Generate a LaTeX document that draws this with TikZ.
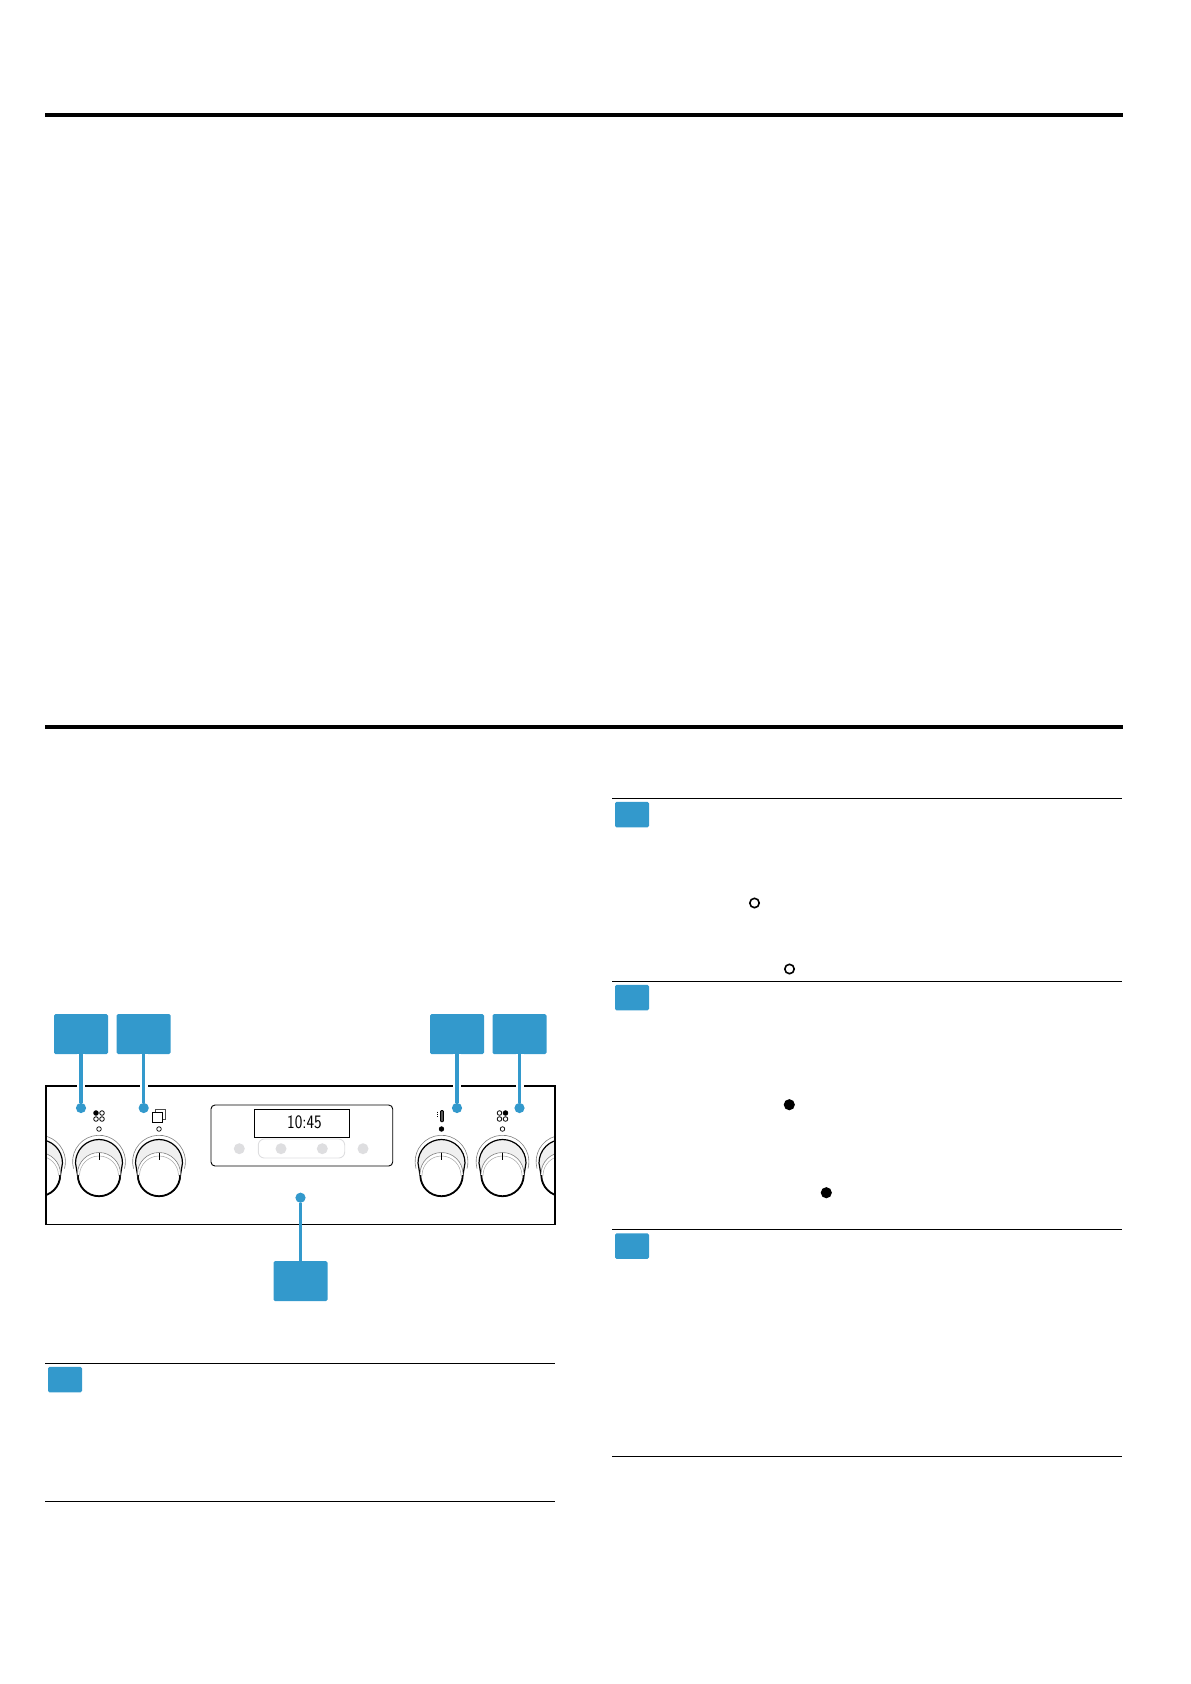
\documentclass[tikz,border=0pt]{standalone}
\usepackage{tikz}
\usetikzlibrary{positioning,calc}
\definecolor{calloutblue}{HTML}{3399CC}
\definecolor{keygray}{HTML}{DEDEE0}

\begin{document}
\begin{tikzpicture}[
    x=1pt, y=-1pt,
    callout/.style={fill=calloutblue, rounded corners=1.5pt, minimum width=54pt, minimum height=40pt, inner sep=0pt},
    tag/.style={fill=calloutblue, rounded corners=1.5pt, minimum width=34pt, minimum height=25.5pt, inner sep=0pt},
    anchordot/.style={circle, fill=calloutblue, minimum size=10.2pt, inner sep=0pt},
    lead/.style={draw=calloutblue, line width=3.5pt},
    halo/.style={draw=white, line width=8pt},
    rulethick/.style={line width=4pt},
    rulethin/.style={line width=1.1pt},
    key/.style={circle, fill=keygray, minimum size=11pt, inner sep=0pt},
    lamp/.style={circle, draw, line width=0.7pt, minimum size=4.6pt, inner sep=0pt},
    bullet/.style={circle, draw, line width=1.6pt, minimum size=9.4pt, inner sep=0pt},
    spot/.style={circle, draw, line width=0.8pt, minimum size=4.6pt, inner sep=0pt}
]
    \useasboundingbox (0,0) rectangle (1191,1684);

    % page rules
    \draw[rulethick] (45,115) -- (1123,115);
    \draw[rulethick] (45,727) -- (1123,727);
    \draw[rulethin] (612,798.5) -- (1122,798.5);
    \draw[rulethin] (612,981.4) -- (1122,981.4);
    \draw[rulethin] (612,1229.5) -- (1122,1229.5);
    \draw[rulethin] (612,1456.5) -- (1122,1456.5);
    \draw[rulethin] (45,1363.5) -- (555,1363.5);
    \draw[rulethin] (45,1501.5) -- (555,1501.5);

    % tags under the rules
    \node[tag] (tagA) at (632,814.5) {};
    \node[tag] (tagB) at (632,997.5) {};
    \node[tag] (tagC) at (632,1246) {};
    \node[tag] (tagD) at (65,1379.5) {};

    % marks in the right column
    \node[bullet] (openA) at (754.5,903) {};
    \node[bullet] (openB) at (789.5,969) {};
    \node[bullet, fill=black] (fullA) at (789.3,1104.7) {};
    \node[bullet, fill=black] (fullB) at (826.3,1192.7) {};

    % knobs, clipped by the panel
    \begin{scope}
        \clip (46,1086) rectangle (555,1225);
        \foreach \kx in {39,99,159,441.5,502.5,562.5} {
            \draw[black!50, line width=0.6pt] (\kx-25.5,1168.5) arc[start angle=165, end angle=375, radius=26.4];
            \draw[fill=black!6, line width=1.2pt] (\kx-23.5,1163) arc[start angle=180, end angle=360, radius=23.5] -- (\kx+21.5,1175) arc[start angle=0, end angle=180, radius=21.5] -- cycle;
            \draw[fill=white, draw=none] (\kx,1174) circle[radius=21.5];
            \draw[black!50, line width=0.6pt] (\kx-21.5,1174) arc[start angle=180, end angle=360, radius=21.5];
            \draw[black!35, line width=0.5pt] (\kx-19.5,1175.5) arc[start angle=180, end angle=360, radius=19.5];
            \draw[line width=1.4pt] (\kx-21,1175) arc[start angle=180, end angle=0, radius=21];
            \draw[line width=0.8pt] (\kx,1153) -- (\kx,1160);
        }
    \end{scope}

    % panel
    \draw[line width=1.5pt] (46,1086) rectangle (555,1224.5);

    % display
    \draw[line width=0.9pt, rounded corners=4pt] (211,1105) rectangle (392.7,1166);
    \node[draw, line width=1pt, minimum width=95pt, minimum height=28pt, inner sep=0pt] (clock) at (302,1123.3) {};
    \node[font=\sffamily\fontsize{19}{19}\selectfont, xscale=0.85, inner sep=0pt] (clocktext) at (304.5,1122.5) {10:45};
    \draw[keygray, line width=0.9pt, rounded corners=6pt] (258.3,1139) rectangle (344.7,1158);
    \node[key] (keyA) at (239.3,1148.7) {};
    \node[key] (keyB) at (281,1148.7) {};
    \node[key] (keyC) at (322.3,1148.7) {};
    \node[key] (keyD) at (363,1148.7) {};

    % lamps under the symbols
    \node[lamp] (lampA) at (99,1129) {};
    \node[lamp] (lampB) at (159,1129) {};
    \node[lamp, fill=black] (lampC) at (441.5,1129) {};
    \node[lamp] (lampD) at (502.5,1129) {};

    % burner symbols
    \node[spot, fill=black] (spotA) at (96,1113) {};
    \node[spot] (spotB) at (102,1113) {};
    \node[spot] (spotC) at (96,1119) {};
    \node[spot] (spotD) at (102,1119) {};
    \node[spot] (spotE) at (499.5,1113) {};
    \node[spot, fill=black] (spotF) at (505.5,1113) {};
    \node[spot] (spotG) at (499.5,1119) {};
    \node[spot] (spotH) at (505.5,1119) {};

    % oven symbol
    \draw[line width=0.6pt, black!70] (155.5,1112) -- (155.5,1109.5) -- (165,1109.5) -- (165,1119.5) -- (162.5,1119.5);
    \draw[line width=0.9pt] (152.5,1112.2) rectangle (162.5,1122);

    % thermometer symbol
    \draw[fill=black!65, line width=0.8pt, rounded corners=1pt] (440.5,1110.5) rectangle (443.5,1121.8);
    \draw[line width=0.9pt, dash pattern=on 1pt off 1.4pt] (437.3,1111.5) -- (437.3,1118);

    % callouts
    \node[callout] (boxA) at (81,1034) {};
    \node[callout] (boxB) at (143.7,1034) {};
    \node[callout] (boxC) at (457,1034) {};
    \node[callout] (boxD) at (519.5,1034) {};
    \node[callout] (boxE) at (300.5,1281) {};

    \node[anchordot] (dotA) at (81,1108) {};
    \node[anchordot] (dotB) at (143.7,1108) {};
    \node[anchordot] (dotC) at (457,1108) {};
    \node[anchordot] (dotD) at (519.5,1108) {};
    \node[anchordot] (dotE) at (300.5,1197.7) {};

    \draw[halo] (boxA) -- (dotA);
    \draw[halo] (boxB) -- (dotB);
    \draw[halo] (boxC) -- (dotC);
    \draw[halo] (boxD) -- (dotD);
    \draw[lead] (boxA) -- (dotA);
    \draw[lead] (boxB) -- (dotB);
    \draw[lead] (boxC) -- (dotC);
    \draw[lead] (boxD) -- (dotD);
    \draw[lead] (boxE) -- (dotE);
\end{tikzpicture}
\end{document}
